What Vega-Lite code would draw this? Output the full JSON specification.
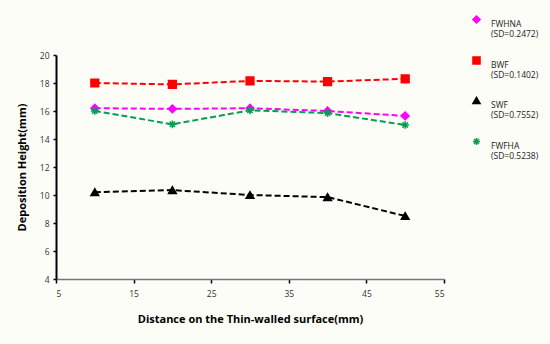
{
  "$schema": "https://vega.github.io/schema/vega-lite/v6.json",
  "autosize": "none",
  "width": 388,
  "height": 224,
  "padding": {"left": 56, "top": 55, "right": 106, "bottom": 65},
  "background": "#fdfdf8",
  "config": {"view": {"stroke": null}, "font": "Open Sans"},
  "data": {"values": [
    {"series": "FWHNA", "x": 10, "y": 16.2},
    {"series": "FWHNA", "x": 20, "y": 16.15},
    {"series": "FWHNA", "x": 30, "y": 16.2},
    {"series": "FWHNA", "x": 40, "y": 16.0},
    {"series": "FWHNA", "x": 50, "y": 15.65},
    {"series": "BWF", "x": 10, "y": 18.0},
    {"series": "BWF", "x": 20, "y": 17.9},
    {"series": "BWF", "x": 30, "y": 18.15},
    {"series": "BWF", "x": 40, "y": 18.1},
    {"series": "BWF", "x": 50, "y": 18.3},
    {"series": "SWF", "x": 10, "y": 10.2},
    {"series": "SWF", "x": 20, "y": 10.35},
    {"series": "SWF", "x": 30, "y": 10.0},
    {"series": "SWF", "x": 40, "y": 9.85},
    {"series": "SWF", "x": 50, "y": 8.5},
    {"series": "FWFHA", "x": 10, "y": 16.0},
    {"series": "FWFHA", "x": 20, "y": 15.05},
    {"series": "FWFHA", "x": 30, "y": 16.05},
    {"series": "FWFHA", "x": 40, "y": 15.85},
    {"series": "FWFHA", "x": 50, "y": 15.0}
  ]},
  "encoding": {
    "x": {"field": "x", "type": "quantitative",
      "scale": {"domain": [5, 55], "nice": false, "zero": false},
      "axis": {"values": [5, 15, 25, 35, 45, 55], "grid": false,
        "title": "Distance on the Thin-walled surface(mm)",
        "titleFont": "Open Sans", "titleFontWeight": "bold", "titleFontSize": 11, "titleColor": "#000", "titlePadding": 16,
        "labelFontSize": 8.5, "labelColor": "#333", "labelPadding": 6,
        "domainColor": "#777", "domainWidth": 1.5, "tickColor": "#000", "tickWidth": 1.5, "tickSize": 4}
    },
    "y": {"field": "y", "type": "quantitative",
      "scale": {"domain": [4, 20], "nice": false, "zero": false},
      "axis": {"values": [4, 6, 8, 10, 12, 14, 16, 18, 20], "grid": false,
        "title": "Deposition Height(mm)",
        "titleFont": "Open Sans", "titleFontWeight": "bold", "titleFontSize": 11, "titleColor": "#000", "titlePadding": 12,
        "labelFontSize": 8.5, "labelColor": "#333", "labelPadding": 4,
        "domainColor": "#000", "domainWidth": 2, "tickColor": "#000", "tickWidth": 1.5, "tickSize": 3}
    }
  },
  "layer": [
    {
      "mark": {"type": "line", "strokeWidth": 2, "strokeDash": [6, 3]},
      "encoding": {
        "color": {"field": "series", "type": "nominal",
          "scale": {"domain": ["FWHNA", "BWF", "SWF", "FWFHA"], "range": ["#ff00ff", "#ff0000", "#000000", "#00a050"]},
          "legend": {"title": null, "orient": "none", "legendX": 416, "legendY": -40,
            "labelExpr": "[datum.label, datum.label == 'FWHNA' ? '(SD=0.2472)' : datum.label == 'BWF' ? '(SD=0.1402)' : datum.label == 'SWF' ? '(SD=0.7552)' : '(SD=0.5238)']",
            "labelBaseline": "top", "labelFontSize": 8.5, "labelColor": "#222", "labelLimit": 200, "rowPadding": 14, "symbolSize": 50, "symbolStrokeWidth": 1.5, "labelOffset": 10}}
      }
    },
    {
      "mark": {"type": "point", "filled": false, "size": 60, "strokeWidth": 1.5, "opacity": 1},
      "encoding": {
        "color": {"field": "series", "type": "nominal"},
        "fill": {"field": "series", "type": "nominal",
          "scale": {"domain": ["FWHNA", "BWF", "SWF", "FWFHA"], "range": ["#ff00ff", "#ff0000", "#000000", "#00a050"]}},
        "shape": {"field": "series", "type": "nominal",
          "scale": {"domain": ["FWHNA", "BWF", "SWF", "FWFHA"], "range": ["diamond", "square", "triangle-up", "M-1,0L1,0M0,-1L0,1M-0.7,-0.7L0.7,0.7M-0.7,0.7L0.7,-0.7"]}}
      }
    }
  ]
}
